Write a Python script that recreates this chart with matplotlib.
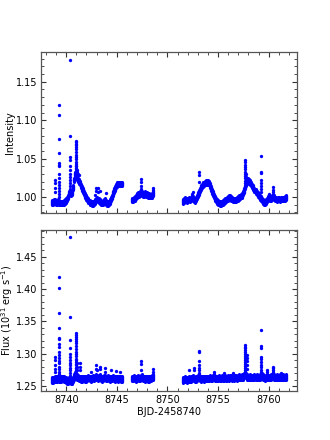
import numpy as np
import matplotlib
matplotlib.use("Agg")
import matplotlib.pyplot as plt
from matplotlib.ticker import MultipleLocator

# ---------------- data ----------------
# sampling start times of the three observing segments (0.1 d cadence of the smoothed band)
seg_starts = [8738.6, 8746.5, 8751.5]
cadence = 0.1

# normalized intensity (band centre)
int_seg1 = [0.993, 0.993, 0.994, 0.994, 0.993, 0.993, 0.994, 0.993, 0.992, 0.992,
            0.992, 0.992, 0.993, 0.994, 0.995, 0.997, 1.000, 1.004, 1.006, 1.004,
            1.006, 1.012, 1.022, 1.030, 1.028, 1.025, 1.022, 1.020, 1.018, 1.014,
            1.011, 1.008, 1.005, 1.002, 0.999, 0.997, 0.995, 0.993, 0.992, 0.991,
            0.991, 0.992, 0.994, 0.996, 0.997, 0.996, 0.995, 0.994, 0.993, 0.992,
            0.992, 0.994, 0.995, 0.993, 0.991, 0.991, 0.992, 0.994, 0.997, 1.000,
            1.004, 1.008, 1.011, 1.014, 1.016, 1.017, 1.017, 1.017, 1.017, 1.017]
int_seg2 = [0.996, 0.996, 0.997, 0.998, 1.000, 1.002, 1.003, 1.003, 1.004, 1.006,
            1.004, 1.003, 1.003, 1.004, 1.003, 1.003, 1.002, 1.002, 1.001, 1.001,
            1.002, 1.004]
int_seg3 = [0.994, 0.995, 0.997, 0.996, 0.995, 0.996, 0.997, 0.996, 0.997, 0.999,
            0.998, 0.996, 0.995, 0.997, 1.000, 1.003, 1.006, 1.009, 1.012, 1.014,
            1.016, 1.017, 1.018, 1.019, 1.019, 1.019, 1.018, 1.015, 1.011, 1.007,
            1.004, 1.001, 0.998, 0.996, 0.994, 0.993, 0.992, 0.991, 0.991, 0.992,
            0.993, 0.994, 0.995, 0.996, 0.997, 0.998, 0.999, 0.999, 0.998, 0.997,
            0.996, 0.996, 0.996, 0.996, 0.997, 0.998, 0.999, 1.000, 1.001, 1.002,
            1.005, 1.008, 1.013, 1.017, 1.020, 1.021, 1.020, 1.019, 1.017, 1.014,
            1.012, 1.009, 1.007, 1.005, 1.003, 1.001, 0.999, 0.998, 0.996, 0.994,
            0.993, 0.993, 0.994, 0.996, 0.998, 0.999, 0.998, 0.997, 0.999, 1.001,
            0.999, 0.997, 0.997, 0.996, 0.997, 0.997, 0.996, 0.997, 0.997, 0.997,
            0.997, 0.998, 0.999]

# flux in 1e31 erg/s (band centre)
flux_seg1 = [1.259, 1.259, 1.260, 1.261, 1.261, 1.261,
             1.262, 1.261, 1.261, 1.261, 1.262, 1.262, 1.261, 1.260,
             1.259, 1.258, 1.257, 1.260, 1.262, 1.258, 1.257, 1.260, 1.264, 1.268,
             1.266, 1.264, 1.263, 1.262, 1.262, 1.261, 1.261, 1.262, 1.262, 1.261,
             1.261, 1.262, 1.263, 1.262, 1.261, 1.262, 1.263, 1.262, 1.263, 1.264,
             1.263, 1.262, 1.263, 1.264, 1.262, 1.261, 1.262, 1.263, 1.263, 1.262,
             1.262, 1.263, 1.262, 1.261, 1.262, 1.262, 1.263, 1.262, 1.261, 1.262,
             1.262, 1.261, 1.262, 1.262, 1.261, 1.261]
flux_seg2 = [1.262, 1.262, 1.263, 1.262, 1.261, 1.262, 1.263, 1.262, 1.262, 1.263,
             1.264, 1.262, 1.262, 1.261, 1.262, 1.262, 1.261, 1.261, 1.262, 1.262,
             1.263, 1.264]
flux_seg3 = [1.259, 1.260, 1.261, 1.260, 1.259,
             1.260, 1.261, 1.260, 1.261, 1.262, 1.263, 1.262, 1.260, 1.261, 1.262,
             1.263, 1.264, 1.262, 1.261, 1.262, 1.262, 1.261, 1.262, 1.262, 1.262,
             1.262, 1.262, 1.263, 1.262, 1.262, 1.263, 1.264, 1.262, 1.262, 1.262,
             1.262, 1.263, 1.262, 1.262, 1.263, 1.262, 1.262, 1.263, 1.262, 1.262,
             1.263, 1.262, 1.263, 1.263, 1.262, 1.263, 1.262, 1.263, 1.263, 1.262,
             1.263, 1.264, 1.263, 1.263, 1.264, 1.263, 1.266, 1.268, 1.266, 1.264,
             1.263, 1.263, 1.264, 1.263, 1.263, 1.263, 1.264, 1.263, 1.264, 1.263,
             1.263, 1.264, 1.265, 1.266, 1.264, 1.263, 1.262, 1.263, 1.264, 1.263,
             1.263, 1.263, 1.264, 1.265, 1.266, 1.264, 1.263, 1.263, 1.264, 1.263,
             1.263, 1.264, 1.263, 1.263, 1.264, 1.263, 1.263, 1.264]

# individual flare points above the band: (time, values)
int_flares = [
    (8738.85, [1.022, 1.018, 1.012, 1.006]),
    (8739.25, [1.120, 1.107, 1.075, 1.057, 1.044, 1.042, 1.040, 1.030, 1.024,
               1.020, 1.016, 1.012, 1.008, 1.004, 1.000]),
    (8740.40, [1.178, 1.079, 1.052, 1.048, 1.040, 1.035, 1.030, 1.026, 1.022,
               1.018, 1.014, 1.010]),
    (8740.92, [1.073, 1.071, 1.069, 1.067, 1.065, 1.062, 1.058, 1.055, 1.052,
               1.049, 1.046, 1.043, 1.040, 1.037, 1.034]),
    (8741.00, [1.040, 1.036]), (8741.10, [1.035, 1.032]),
    (8741.20, [1.030]), (8741.30, [1.028]),
    (8742.90, [1.011, 1.007]), (8743.10, [1.012, 1.006]), (8743.30, [1.008]),
    (8743.90, [1.005]), (8742.80, [1.003]),
    (8747.40, [1.023, 1.020, 1.014, 1.010]), (8748.60, [1.012, 1.009]),
    (8752.40, [1.004]), (8752.50, [1.006]),
    (8753.10, [1.033, 1.028, 1.020]),
    (8757.65, [1.048, 1.045, 1.042, 1.039, 1.036, 1.033, 1.030, 1.027, 1.024,
               1.021, 1.018]),
    (8757.75, [1.030, 1.026]),
    (8759.25, [1.053, 1.033, 1.031, 1.022, 1.018, 1.014, 1.010, 1.006]),
    (8760.00, [1.004]), (8760.45, [1.013, 1.009, 1.006]),
]
flux_flares = [
    (8738.85, [1.295, 1.290, 1.283, 1.277, 1.271]),
    (8739.25, [1.418, 1.401, 1.363, 1.339, 1.324, 1.322, 1.315, 1.310, 1.303,
               1.298, 1.293, 1.289, 1.285, 1.280, 1.276, 1.272, 1.268]),
    (8740.40, [1.480, 1.356, 1.321, 1.308, 1.300, 1.295, 1.290, 1.286, 1.282,
               1.278, 1.274, 1.270, 1.266]),
    (8740.92, [1.332, 1.329, 1.326, 1.323, 1.320, 1.316, 1.312, 1.307, 1.302,
               1.297, 1.292, 1.287, 1.282, 1.278, 1.274, 1.270]),
    (8741.00, [1.300, 1.290, 1.284, 1.278]), (8741.10, [1.285, 1.280, 1.275]),
    (8741.40, [1.286, 1.280, 1.274]),
    (8742.90, [1.282, 1.276]), (8743.00, [1.275]), (8743.30, [1.280, 1.276]),
    (8743.80, [1.278, 1.272]), (8744.40, [1.274]), (8744.90, [1.273]),
    (8742.40, [1.272]), (8745.30, [1.272]),
    (8747.40, [1.288, 1.284, 1.275]), (8748.55, [1.277, 1.272]),
    (8752.10, [1.274]), (8752.60, [1.278, 1.274]),
    (8753.10, [1.304, 1.302, 1.288, 1.283, 1.278, 1.274, 1.270]),
    (8754.60, [1.272, 1.268]), (8755.60, [1.270]), (8756.50, [1.270]),
    (8757.65, [1.314, 1.311, 1.308, 1.305, 1.302, 1.299, 1.296, 1.293, 1.290,
               1.287, 1.284, 1.281, 1.278, 1.275, 1.272, 1.269]),
    (8757.85, [1.298, 1.293, 1.288, 1.282, 1.276]),
    (8759.25, [1.336, 1.312, 1.308, 1.295, 1.291, 1.287, 1.283, 1.279, 1.275, 1.271]),
    (8759.85, [1.275, 1.272]),
    (8760.40, [1.280, 1.278, 1.275, 1.272, 1.269]),
    (8761.20, [1.270]),
]

int_band_halfwidth = 0.003
flux_band_halfwidth = 0.0042

# ---------------- plotting ----------------
plt.rcParams['font.family'] = ['DejaVu Sans']
plt.rcParams['mathtext.default'] = 'regular'
fig = plt.figure(figsize=(3.3, 4.4), dpi=100)
ax1 = fig.add_axes([0.124, 0.516, 0.776, 0.366])
ax2 = fig.add_axes([0.124, 0.111, 0.776, 0.366])

COL = '#0000ff'


def draw(ax, segs, flares, hw):
    for start, vals in zip(seg_starts, segs):
        v = np.asarray(vals)
        t = start + cadence * np.arange(len(v))
        ax.vlines(t, v - hw, v + hw, color=COL, lw=2.4, zorder=2)
        for off in (-hw, 0.0, hw):
            ax.plot(t, v + off, 'o', color=COL, ms=2.2, mew=0, zorder=3)
    for tf, vals in flares:
        ax.plot([tf] * len(vals), vals, 'o', color=COL, ms=2.4, mew=0, zorder=3)


draw(ax1, [int_seg1, int_seg2, int_seg3], int_flares, int_band_halfwidth)
draw(ax2, [flux_seg1, flux_seg2, flux_seg3], flux_flares, flux_band_halfwidth)

for ax in (ax1, ax2):
    ax.set_xlim(8737.5, 8762.8)
    ax.xaxis.set_major_locator(MultipleLocator(5))
    ax.xaxis.set_minor_locator(MultipleLocator(1))
    ax.tick_params(which='both', direction='in', top=True, right=True,
                   labelsize=7, color='#333333', pad=2.5)
    ax.tick_params(which='major', length=3.5, width=0.8)
    ax.tick_params(which='minor', length=2, width=0.6)
    for s in ax.spines.values():
        s.set_color('#555555')
        s.set_linewidth(0.9)

ax1.set_ylim(0.979, 1.189)
ax1.yaxis.set_major_locator(MultipleLocator(0.05))
ax1.yaxis.set_minor_locator(MultipleLocator(0.01))
ax1.tick_params(labelbottom=False)
ax1.set_ylabel('Intensity', fontsize=7)
ax1.yaxis.set_label_coords(-0.10, 0.5)

ax2.set_ylim(1.242, 1.491)
ax2.yaxis.set_major_locator(MultipleLocator(0.05))
ax2.yaxis.set_minor_locator(MultipleLocator(0.01))
ax2.set_ylabel('Flux (10$^{31}$ erg s$^{-1}$)', fontsize=7)
ax2.yaxis.set_label_coords(-0.10, 0.5)
ax2.set_xlabel('BJD-2458740', fontsize=7, labelpad=2)

fig.savefig('out.png', dpi=100)
